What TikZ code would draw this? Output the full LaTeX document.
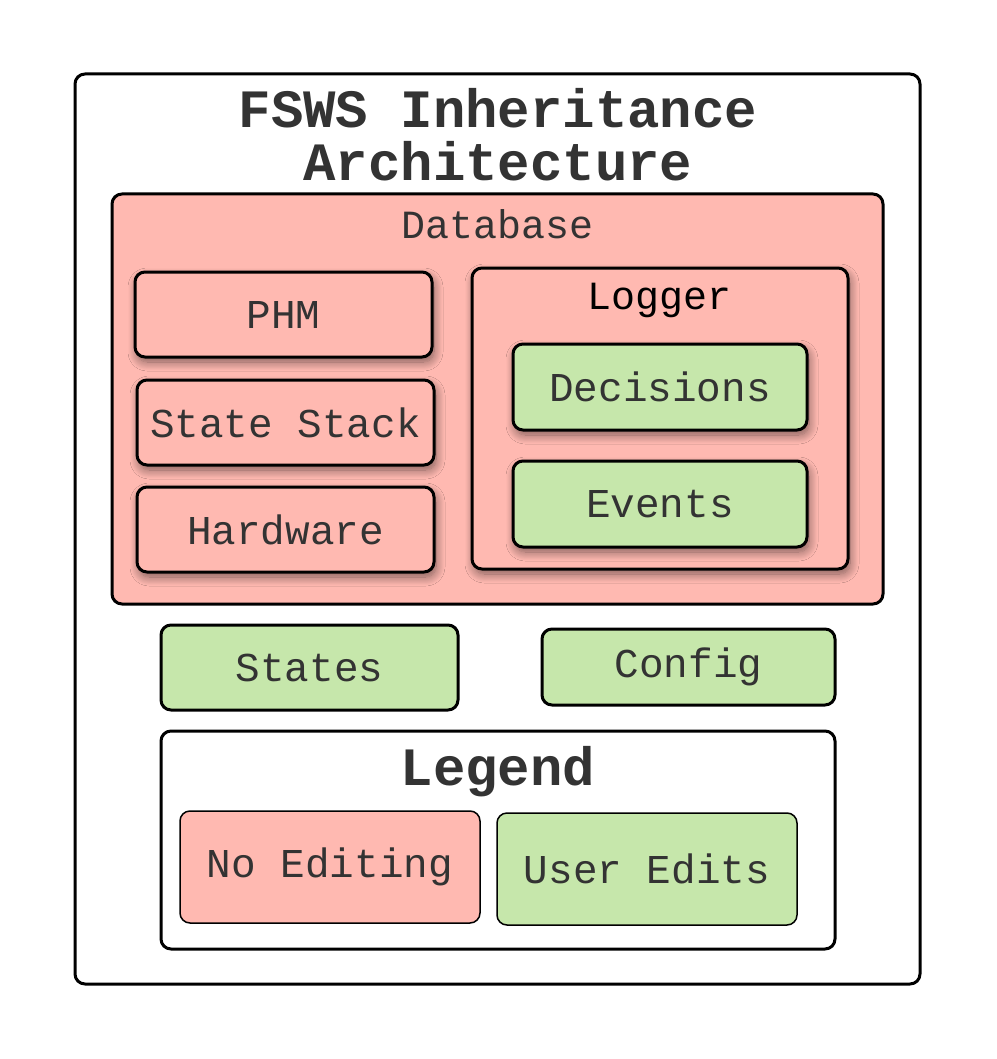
\documentclass[tikz,border=0pt]{standalone}
\usepackage{fontspec}
\setmonofont{Liberation Mono}
\usetikzlibrary{shadows.blur}
\definecolor{nofill}{HTML}{FFB9B1}
\definecolor{userfill}{HTML}{C6E7AB}
\definecolor{txt}{HTML}{333333}
\tikzset{
  box/.style={draw=black, line width=3pt, rounded corners=10pt, inner sep=0pt,
    font=\ttfamily\fontsize{41}{41}\selectfont, text=txt},
  nobox/.style={box, fill=nofill},
  userbox/.style={box, fill=userfill},
  shade/.style={blur shadow={shadow xshift=2pt, shadow yshift=-5pt,
    shadow blur radius=9pt, shadow blur steps=12, shadow opacity=50}},
  keybox/.style={box, line width=1.5pt},
  label/.style={font=\ttfamily\fontsize{40}{40}\selectfont, text=txt, inner sep=0pt},
  heading/.style={font=\ttfamily\bfseries\fontsize{54}{54}\selectfont, text=txt, inner sep=0pt, anchor=base},
}
\begin{document}
\begin{tikzpicture}[x=1pt,y=-1pt]
\useasboundingbox (0,0) rectangle (996,1059);
% outer frame and title
\node[box, fill=white, minimum width=845pt, minimum height=910pt] (frame) at (497.5,529) {};
\node[heading] (title1) at (498,128) {FSWS Inheritance};
\node[heading] (title2) at (498,181) {Architecture};
% database container
\node[nobox, minimum width=771pt, minimum height=410pt] (db) at (497.5,399) {};
\node[label] (dblabel) at (498,224) {Database};
\node[nobox, shade, minimum width=297pt, minimum height=85pt] (phm) at (283.5,314.5) {PHM};
\node[nobox, shade, minimum width=297pt, minimum height=85pt] (stack) at (285.5,422.5) {State Stack};
\node[nobox, shade, minimum width=297pt, minimum height=85pt] (hw) at (285.5,529.5) {Hardware};
% logger container
\node[nobox, shade, minimum width=376pt, minimum height=301pt] (logger) at (660,418.5) {};
\node[label, text=black] (loggerlabel) at (660,300) {Logger};
\node[userbox, shade, minimum width=294pt, minimum height=86pt] (dec) at (660,387) {Decisions};
\node[userbox, shade, minimum width=294pt, minimum height=86pt] (ev) at (660,504) {Events};
% editable files
\node[userbox, minimum width=297pt, minimum height=85pt] (states) at (309.5,667.5) {States};
\node[userbox, minimum width=293pt, minimum height=76pt] (config) at (688.5,667) {Config};
% legend
\node[box, fill=white, minimum width=674pt, minimum height=218pt] (legend) at (498,840) {};
\node[heading] (legendtitle) at (498,785) {Legend};
\node[keybox, fill=nofill, minimum width=300pt, minimum height=112pt] (kno) at (330,867) {No Editing};
\node[keybox, fill=userfill, minimum width=300pt, minimum height=112pt] (kuser) at (647,869) {User Edits};
\end{tikzpicture}
\end{document}
